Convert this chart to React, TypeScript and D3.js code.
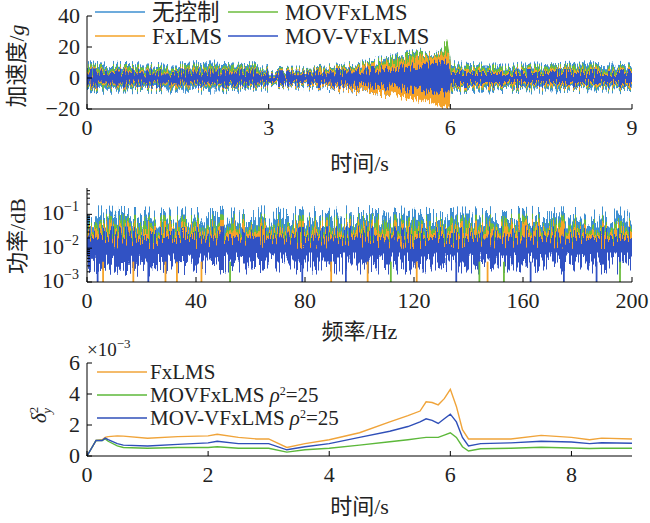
import * as d3 from 'd3';

// ---- top panel: acceleration envelopes (g) ----
const timeKnots = [0, 0.25, 0.5, 1, 1.5, 2, 2.5, 2.99, 3.01, 3.5, 4, 4.5, 5, 5.25, 5.5, 5.7, 5.85, 5.95, 5.99, 6.01, 6.5, 7, 7.5, 8, 8.5, 9];
const noCtrlUpper = [9, 8, 8.5, 8, 8, 9.5, 8.5, 8, 5, 5.5, 7, 9, 13, 15, 17, 16, 18, 22, 14, 9, 8, 8, 8, 8.5, 9, 8];
const noCtrlLower = [-8, -7.5, -7.5, -7, -7.5, -7.5, -7, -7, -4.5, -5, -6.5, -8.5, -11, -12, -13, -14, -15, -16, -12, -7.5, -7.5, -7, -7.5, -7, -7.5, -7];
const movUpper = [7, 6.5, 6.5, 6.5, 6.5, 7, 7, 6.5, 4, 4.5, 6, 8, 12, 14, 16, 15, 17, 25, 15, 7, 6.5, 6.5, 6.5, 7, 7, 6.5];
const movLower = [-6, -5.5, -5.5, -5.5, -5.5, -5.5, -5.5, -5.5, -3.8, -4, -5.5, -7, -9.5, -10.5, -12, -13, -14, -15, -11, -6, -5.5, -5.5, -5.5, -5.5, -5.5, -5.5];
const fxUpper = [5, 4.5, 4.5, 4.5, 4.5, 4.8, 4.5, 4.5, 3, 3.5, 5, 7, 10, 11, 13, 14, 15, 16, 14, 4.5, 4.5, 4.5, 4.5, 4.8, 4.8, 4.5];
const fxLower = [-4.8, -4.5, -4.5, -4.5, -4.8, -4.5, -4.5, -4.5, -3.2, -3.5, -5.5, -8, -11, -13, -14, -16, -19, -20, -18, -4.8, -4.8, -4.5, -4.8, -4.8, -4.5, -4.8];
const movvUpper = [3.5, 3.5, 3.5, 3.5, 3.5, 3.5, 3.5, 3.5, 2.5, 2.5, 3.5, 4.5, 6, 7, 8, 9, 9.5, 10, 9, 3.2, 3.2, 3.2, 3.2, 3.2, 3.2, 3.2];
const movvLower = [-3.5, -3.5, -3.5, -3.5, -3.5, -3.5, -3.5, -3.5, -2.5, -2.5, -3.5, -4.5, -5.5, -6.5, -7.5, -8.5, -9, -9.5, -8.5, -3.2, -3.2, -3.2, -3.2, -3.2, -3.2, -3.2];

// ---- middle panel: power spectrum envelopes ----
const freqKnots = [0, 20, 40, 60, 80, 100, 120, 140, 160, 180, 200];
const psdNoCtrlUpper = [0.09, 0.08, 0.08, 0.09, 0.08, 0.09, 0.085, 0.08, 0.085, 0.08, 0.08];
const psdNoCtrlLower = [0.015, 0.015, 0.015, 0.015, 0.015, 0.015, 0.015, 0.015, 0.015, 0.015, 0.015];
const psdMovUpper = [0.05, 0.045, 0.045, 0.05, 0.045, 0.05, 0.045, 0.045, 0.05, 0.045, 0.045];
const psdMovLower = [0.008, 0.008, 0.008, 0.008, 0.008, 0.008, 0.008, 0.008, 0.008, 0.008, 0.008];
const psdFxUpper = [0.035, 0.03, 0.03, 0.035, 0.03, 0.035, 0.03, 0.03, 0.035, 0.03, 0.03];
const psdFxLower = [0.003, 0.004, 0.004, 0.005, 0.005, 0.005, 0.005, 0.005, 0.005, 0.005, 0.005];
const psdMovvUpper = [0.022, 0.02, 0.02, 0.022, 0.02, 0.022, 0.02, 0.02, 0.022, 0.02, 0.02];
const psdMovvLower = [0.003, 0.003, 0.0035, 0.0035, 0.0035, 0.0035, 0.0035, 0.0035, 0.0035, 0.0035, 0.0035];
const fxDips = [5.9, 17, 28.8, 33, 42, 89.6, 103, 121, 147];
const movDips = [52.5, 111.5, 144, 153, 195.6];
const movvDips = [3.9, 22.5, 79, 95, 135.5, 162.8, 175, 187];

// ---- bottom panel: delta_y^2 (x1e-3) ----
const deltaT = [0, 0.15, 0.25, 0.3, 0.35, 0.5, 0.6, 1.0, 1.5, 2.0, 2.15, 2.5, 2.8, 3.0, 3.3, 3.6, 4.0, 4.5, 5.0, 5.3, 5.5, 5.6, 5.7, 5.8, 5.9, 6.0, 6.1, 6.2, 6.3, 6.5, 7.0, 7.5, 8.0, 8.3, 8.5, 9.0];
const deltaFx = [0, 1.0, 1.05, 1.2, 1.25, 1.3, 1.28, 1.15, 1.25, 1.3, 1.4, 1.2, 1.1, 1.1, 0.55, 0.8, 1.05, 1.5, 2.2, 2.6, 2.9, 3.5, 3.45, 3.3, 3.7, 4.3, 3.2, 1.7, 1.1, 1.1, 1.1, 1.33, 1.2, 1.05, 1.15, 1.1];
const deltaMov = [0, 1.0, 1.0, 1.1, 0.95, 0.65, 0.55, 0.5, 0.55, 0.55, 0.6, 0.5, 0.5, 0.5, 0.25, 0.4, 0.5, 0.7, 0.92, 1.05, 1.15, 1.2, 1.2, 1.2, 1.35, 1.5, 1.2, 0.6, 0.32, 0.47, 0.5, 0.56, 0.52, 0.48, 0.5, 0.5];
const deltaMovv = [0, 1.0, 1.0, 1.15, 1.05, 0.8, 0.7, 0.65, 0.75, 0.85, 0.95, 0.8, 0.8, 0.8, 0.4, 0.6, 0.8, 1.2, 1.6, 1.9, 2.2, 2.4, 2.3, 2.1, 2.4, 2.7, 2.2, 1.2, 0.65, 0.8, 0.85, 0.95, 0.9, 0.8, 0.85, 0.82];

const accelTicks = [-20, 0, 20, 40];
const timeTicks = [0, 3, 6, 9];
const freqTicks = [0, 40, 80, 120, 160, 200];
const psdTicks = [1e-3, 1e-2, 1e-1];
const psdTickLabels = ['−3', '−2', '−1'];
const deltaTicks = [0, 2, 4, 6];
const deltaTimeTicks = [0, 2, 4, 6, 8];

const C_NOCTRL = '#3d8fd1';
const C_MOV = '#6cbd3e';
const C_FX = '#f5a329';
const C_MOVV = '#3152c4';

const FONT = "'Liberation Serif', 'Times New Roman', 'Noto Sans CJK SC', serif";
const TXT = '#222';

const X0 = 87;
const X1 = 632;
const XC = (X0 + X1) / 2;

// vertical-only jitter filter (texture for the dense noise bands)
function Jitter({ id, seed, scale, fy }: { id: string; seed: number; scale: number; fy: number }) {
  return (
    <filter id={id} x="-1%" y="-60%" width="102%" height="220%" colorInterpolationFilters="sRGB">
      <feTurbulence type="fractalNoise" baseFrequency={`0.75 ${fy}`} numOctaves={2} seed={seed} result="n" />
      <feColorMatrix
        in="n"
        type="matrix"
        values="0 0 0 0 0.5  0 2.6 0 0 -0.8  0 0 0 0 0  0 0 0 0 1"
        result="m"
      />
      <feDisplacementMap in="SourceGraphic" in2="m" scale={scale} xChannelSelector="R" yChannelSelector="G" />
    </filter>
  );
}

export default function App() {
  // scales
  const xT = d3.scaleLinear().domain([0, 9]).range([X0, X1]);
  const yA = d3.scaleLinear().domain([-20, 40]).range([109, 16]);
  const xF = d3.scaleLinear().domain([0, 200]).range([X0, X1]);
  const yP = d3.scaleLog().domain([1e-3, 0.6]).range([282, 188]);
  const yD = d3.scaleLinear().domain([0, 6]).range([456, 363]);

  const accelArea = (up: number[], lo: number[]) =>
    d3
      .area<number>()
      .x((_, i) => xT(timeKnots[i]))
      .y0((_, i) => yA(lo[i]))
      .y1((_, i) => yA(up[i]))(up) as string;

  const psdArea = (up: number[], lo: number[]) =>
    d3
      .area<number>()
      .x((_, i) => xF(freqKnots[i]))
      .y0((_, i) => yP(lo[i]))
      .y1((_, i) => yP(up[i]))(up) as string;

  const deltaLine = (vals: number[]) =>
    d3
      .line<number>()
      .x((_, i) => xT(deltaT[i]))
      .y((d) => yD(d))(vals) as string;

  const accel = [
    { color: C_NOCTRL, up: noCtrlUpper, lo: noCtrlLower },
    { color: C_MOV, up: movUpper, lo: movLower },
    { color: C_FX, up: fxUpper, lo: fxLower },
    { color: C_MOVV, up: movvUpper, lo: movvLower },
  ];
  const psd = [
    { color: C_NOCTRL, up: psdNoCtrlUpper, lo: psdNoCtrlLower, dips: [] as number[] },
    { color: C_MOV, up: psdMovUpper, lo: psdMovLower, dips: movDips },
    { color: C_FX, up: psdFxUpper, lo: psdFxLower, dips: fxDips },
    { color: C_MOVV, up: psdMovvUpper, lo: psdMovvLower, dips: movvDips },
  ];
  const delta = [
    { color: '#f0a43a', vals: deltaFx },
    { color: '#5cb83a', vals: deltaMov },
    { color: '#2f4fb8', vals: deltaMovv },
  ];

  // minor log ticks
  const minorTicks: number[] = [];
  for (const dec of [1e-3, 1e-2, 1e-1]) {
    for (let k = 2; k <= 9; k++) {
      const v = dec * k;
      if (v <= 0.6) minorTicks.push(v);
    }
  }

  const tickFs = 22;
  const labFs = 22;
  const legFs = 22.5;

  return (
    <svg
      width={650}
      height={523}
      style={{ position: 'absolute', left: 0, top: 0, background: '#fff' }}
      fontFamily={FONT}
    >
      <defs>
        <Jitter id="jagTop" seed={4} scale={9} fy={0.05} />
        <Jitter id="jagMid" seed={9} scale={22} fy={0.025} />
        <clipPath id="clipTop">
          <rect x={X0} y={0} width={X1 - X0} height={109} />
        </clipPath>
        <clipPath id="clipMid">
          <rect x={X0} y={180} width={X1 - X0} height={102} />
        </clipPath>
      </defs>

      {/* ===== top panel ===== */}
      <g clipPath="url(#clipTop)">
        {accel.map((s, i) => (
          <path key={i} d={accelArea(s.up, s.lo)} fill={s.color} filter="url(#jagTop)" />
        ))}
      </g>
      <line x1={X0} x2={X0} y1={16} y2={109} stroke="#000" />
      <line x1={X0} x2={X1} y1={109} y2={109} stroke="#000" />
      {accelTicks.map((t) => (
        <g key={t}>
          <line x1={X0} x2={X0 + 5} y1={yA(t)} y2={yA(t)} stroke="#000" />
          <text x={80} y={yA(t) + 7} textAnchor="end" fontSize={tickFs} fill={TXT}>
            {t < 0 ? `−${-t}` : t}
          </text>
        </g>
      ))}
      {timeTicks.map((t) => (
        <g key={t}>
          <line x1={xT(t)} x2={xT(t)} y1={109} y2={104} stroke="#000" />
          <text x={xT(t)} y={135} textAnchor="middle" fontSize={tickFs} fill={TXT}>
            {t}
          </text>
        </g>
      ))}
      <text x={XC} y={163} textAnchor="middle" dominantBaseline="central" fontSize={labFs} fill={TXT}>
        时间/s
      </text>
      <text
        transform="translate(16,66) rotate(-90)"
        textAnchor="middle"
        dominantBaseline="central"
        fontSize={labFs}
        fill={TXT}
      >
        加速度/<tspan fontStyle="italic">g</tspan>
      </text>

      {/* legend top */}
      {[
        { label: '无控制', color: C_NOCTRL, x: 95, y: 12 },
        { label: 'FxLMS', color: C_FX, x: 95, y: 36 },
        { label: 'MOVFxLMS', color: C_MOV, x: 228, y: 12 },
        { label: 'MOV-VFxLMS', color: C_MOVV, x: 228, y: 36 },
      ].map((l) => (
        <g key={l.label}>
          <line x1={l.x} x2={l.x + 50} y1={l.y} y2={l.y} stroke={l.color} strokeWidth={1.3} />
          <text x={l.x + 57} y={l.y} dominantBaseline="central" fontSize={legFs} fill={TXT}>
            {l.label}
          </text>
        </g>
      ))}

      {/* ===== middle panel ===== */}
      <g clipPath="url(#clipMid)">
        {psd.map((s, i) => (
          <path key={i} d={psdArea(s.up, s.lo)} fill={s.color} filter="url(#jagMid)" />
        ))}
        {psd.map((s, i) =>
          s.dips.map((f) => (
            <line
              key={`${i}-${f}`}
              x1={xF(f)}
              x2={xF(f)}
              y1={yP(0.004)}
              y2={yP(1e-3)}
              stroke={s.color}
              strokeWidth={1.8}
            />
          ))
        )}
      </g>
      <line x1={X0} x2={X0} y1={188} y2={282} stroke="#000" />
      <line x1={X0} x2={X1} y1={282} y2={282} stroke="#000" />
      {minorTicks.map((v) => (
        <line key={v} x1={X0} x2={X0 + 3} y1={yP(v)} y2={yP(v)} stroke="#000" />
      ))}
      {psdTicks.map((v, i) => (
        <g key={v}>
          <line x1={X0} x2={X0 + 5} y1={yP(v)} y2={yP(v)} stroke="#000" />
          <text x={79} y={yP(v) + 6} textAnchor="end" fontSize={tickFs} fill={TXT}>
            10
            <tspan dy={-9} fontSize={14}>
              {psdTickLabels[i]}
            </tspan>
          </text>
        </g>
      ))}
      {freqTicks.map((t) => (
        <g key={t}>
          <line x1={xF(t)} x2={xF(t)} y1={282} y2={277} stroke="#000" />
          <text x={xF(t)} y={308} textAnchor="middle" fontSize={tickFs} fill={TXT}>
            {t}
          </text>
        </g>
      ))}
      <text x={XC} y={331} textAnchor="middle" dominantBaseline="central" fontSize={labFs} fill={TXT}>
        频率/Hz
      </text>
      <text
        transform="translate(17,236) rotate(-90)"
        textAnchor="middle"
        dominantBaseline="central"
        fontSize={labFs}
        fill={TXT}
      >
        功率/dB
      </text>

      {/* ===== bottom panel ===== */}
      {delta.map((s, i) => (
        <path key={i} d={deltaLine(s.vals)} fill="none" stroke={s.color} strokeWidth={1.4} />
      ))}
      <line x1={X0} x2={X0} y1={363} y2={456} stroke="#000" />
      <line x1={X0} x2={X1} y1={456} y2={456} stroke="#000" />
      {deltaTicks.map((t) => (
        <g key={t}>
          <line x1={X0} x2={X0 + 5} y1={yD(t)} y2={yD(t)} stroke="#000" />
          <text x={80} y={yD(t) + 7} textAnchor="end" fontSize={tickFs} fill={TXT}>
            {t}
          </text>
        </g>
      ))}
      {deltaTimeTicks.map((t) => (
        <g key={t}>
          <line x1={xT(t)} x2={xT(t)} y1={456} y2={451} stroke="#000" />
          <text x={xT(t)} y={482} textAnchor="middle" fontSize={tickFs} fill={TXT}>
            {t}
          </text>
        </g>
      ))}
      <text x={87} y={356} fontSize={19} fill={TXT}>
        ×10
        <tspan dy={-8} fontSize={13}>
          −3
        </tspan>
      </text>
      <text transform="translate(46,415) rotate(-90)" textAnchor="middle" fontSize={22} fill={TXT}>
        <tspan fontStyle="italic">δ</tspan>
        <tspan dy={-8} fontSize={13}>
          2
        </tspan>
        <tspan dx={-7} dy={13} fontSize={13} fontStyle="italic">
          y
        </tspan>
      </text>
      <text x={XC} y={506} textAnchor="middle" dominantBaseline="central" fontSize={labFs} fill={TXT}>
        时间/s
      </text>

      {/* legend bottom */}
      {[
        { label: 'FxLMS', rho: false, color: '#f0a43a', y: 372 },
        { label: 'MOVFxLMS ', rho: true, color: '#5cb83a', y: 395 },
        { label: 'MOV-VFxLMS ', rho: true, color: '#2f4fb8', y: 418 },
      ].map((l) => (
        <g key={l.label}>
          <line x1={97} x2={147} y1={l.y} y2={l.y} stroke={l.color} strokeWidth={1.3} />
          <text x={150} y={l.y + 7} fontSize={21} fill={TXT}>
            {l.label}
            {l.rho && (
              <>
                <tspan fontStyle="italic">ρ</tspan>
                <tspan dy={-7} fontSize={12}>
                  2
                </tspan>
                <tspan dy={7}>=25</tspan>
              </>
            )}
          </text>
        </g>
      ))}
    </svg>
  );
}
